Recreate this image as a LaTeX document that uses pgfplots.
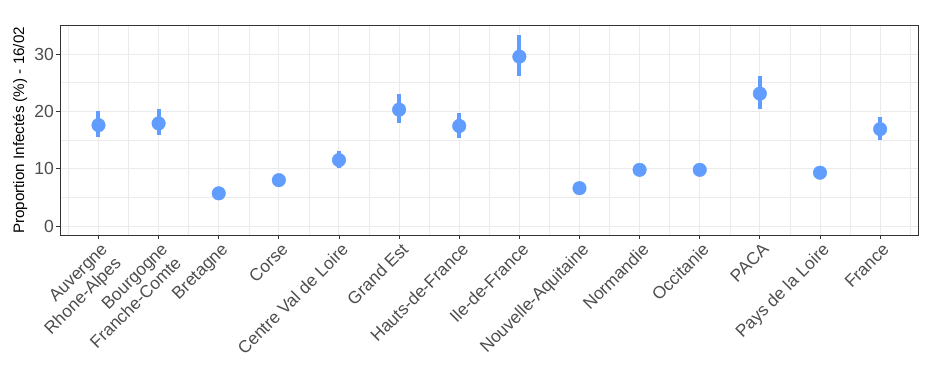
\documentclass[border=0pt]{standalone}
\usepackage{fontspec}
\setmainfont{Liberation Sans}
\usepackage{pgfplots}
\pgfplotsset{compat=1.18}
\definecolor{ptblue}{HTML}{619CFF}
\definecolor{gridc}{HTML}{EBEBEB}
\definecolor{borderc}{HTML}{333333}
\definecolor{tickc}{HTML}{4D4D4D}
\begin{document}
\begin{tikzpicture}
\path (-60bp,-142bp) rectangle (873bp,235bp);
\begin{axis}[
  at={(0,0)}, anchor=south west,
  scale only axis, width=858bp, height=209.3bp,
  xmin=-0.64, xmax=13.63, ymin=-1.57, ymax=34.95,
  xtick={0,...,13},
  xticklabels={{Auvergne\\Rhone-Alpes},{Bourgogne\\Franche-Comte},Bretagne,Corse,Centre Val de Loire,Grand Est,Hauts-de-France,Ile-de-France,Nouvelle-Aquitaine,Normandie,Occitanie,PACA,Pays de la Loire,France},
  minor xtick={-0.5,0.5,...,13.5},
  ytick={0,10,20,30},
  minor ytick={5,15,25},
  grid=both,
  major grid style={draw=gridc, line width=1bp},
  minor grid style={draw=gridc, line width=0.5bp},
  axis line style={draw=borderc, line width=0.8bp},
  tick align=outside,
  xtick pos=bottom, ytick pos=left,
  major tick length=4bp, minor tick length=0pt,
  tick style={draw=borderc, line width=0.8bp},
  /pgf/number format/assume math mode=true,
  xticklabel style={rotate=45, anchor=north east, align=right, text=tickc, font=\fontsize{17.3bp}{19.5bp}\selectfont, inner sep=1pt, yshift=-2bp},
  yticklabel style={text=tickc, font=\fontsize{17.5bp}{19bp}\selectfont, inner sep=2pt},
  ylabel={Proportion Infectés (\%) - 16/02},
  ylabel style={at={(axis description cs:-0.0466,0.5)}, anchor=center, font=\fontsize{15.2bp}{17bp}\selectfont, text=black},
]
\addplot[only marks, mark=*, mark size=6.8bp, color=ptblue,
  error bars/.cd, y dir=both, y explicit, error mark=none,
  error bar style={line width=4bp, ptblue}]
coordinates {
(0,17.6) += (0,2.4) -= (0,2.0)
(1,17.9) += (0,2.5) -= (0,2.0)
(2,5.7) += (0,0.5) -= (0,0.5)
(3,8.0) += (0,0.6) -= (0,0.6)
(4,11.5) += (0,1.6) -= (0,1.3)
(5,20.3) += (0,2.7) -= (0,2.3)
(6,17.45) += (0,2.35) -= (0,2.05)
(7,29.55) += (0,3.75) -= (0,3.35)
(8,6.6) += (0,0.6) -= (0,0.6)
(9,9.8) += (0,1.1) -= (0,0.9)
(10,9.8) += (0,1.1) -= (0,0.9)
(11,23.1) += (0,3.1) -= (0,2.7)
(12,9.3) += (0,0.9) -= (0,0.8)
(13,16.9) += (0,2.2) -= (0,1.9)
};
\end{axis}
\end{tikzpicture}
\end{document}
